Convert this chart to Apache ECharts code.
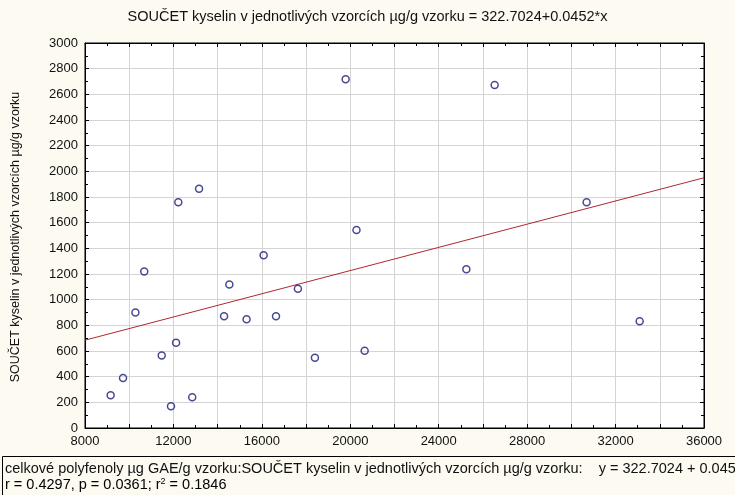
<!DOCTYPE html>
<html>
<head>
<meta charset="utf-8">
<script src="https://cdn.jsdelivr.net/npm/echarts@6/dist/echarts.min.js"></script>
<style>html,body{margin:0;padding:0;background:#fdfaf1;}#c{width:735px;height:495px;}</style>
</head>
<body>
<div id="c"></div>
<script>
const xValues = [9160, 9720, 10280, 10680, 11470, 11890, 12120, 12220, 12850, 13160, 14290, 14530, 15310, 16080, 16640, 17630, 18400, 19790, 20280, 20650, 25250, 26530, 30690, 33090];
const yValues = [255, 390, 900, 1220, 565, 170, 665, 1760, 240, 1865, 870, 1118, 847, 1346, 870, 1085, 548, 2717, 1543, 602, 1237, 2673, 1760, 832];
const intercept = 322.7024;
const slope = 0.0452;
const xMin = 8000, xMax = 36000, yMin = 0, yMax = 3000;
const titleText = 'SOUČET kyselin v jednotlivých vzorcích µg/g vzorku = 322.7024+0.0452*x';
const yName = 'SOUČET kyselin v jednotlivých vzorcích µg/g vzorku';
const footLine1 = 'celkové polyfenoly µg GAE/g vzorku:SOUČET kyselin v jednotlivých vzorcích µg/g vzorku:    y = 322.7024 + 0.0452*x';
const footLine2a = 'r = 0.4297, p = 0.0361; r';
const footLine2b = ' = 0.1846';

const points = xValues.map((x, i) => [x, yValues[i]]);
const lineData = [[xMin, intercept + slope * xMin], [xMax, intercept + slope * xMax]];

const font = 'Liberation Sans, Arial, sans-serif';
const tickCommon = {show: true, inside: true, length: 4, lineStyle: {color: '#000', width: 1}};
const minorCommon = {show: true, splitNumber: 2, length: 3, lineStyle: {color: '#000', width: 1}};
const gridLine = {show: true, lineStyle: {color: '#d4d4d4', width: 1}};

const chart = echarts.init(document.getElementById('c'));
chart.setOption({
  backgroundColor: '#fdfaf1',
  animation: false,
  title: {
    text: titleText, left: 'center', top: 4,
    textStyle: {fontFamily: font, fontSize: 14.5, fontWeight: 'normal', color: '#111'}
  },
  grid: {left: 85, top: 43, right: 31, bottom: 67, show: true, backgroundColor: '#fff', borderColor: '#000', borderWidth: 1},
  xAxis: [{
    type: 'value', min: xMin, max: xMax, interval: 2000,
    axisLine: {show: true, onZero: false, lineStyle: {color: '#000'}},
    axisTick: tickCommon, minorTick: minorCommon,
    splitLine: gridLine,
    axisLabel: {color: '#111', fontFamily: font, fontSize: 13, margin: 7, formatter: v => (v % 4000 === 0 ? String(v) : '')}
  }, {
    type: 'value', position: 'top', min: xMin, max: xMax, interval: 2000,
    axisLine: {show: true, onZero: false, lineStyle: {color: '#000'}},
    axisTick: tickCommon, minorTick: minorCommon,
    splitLine: {show: false}, axisLabel: {show: false}
  }],
  yAxis: [{
    type: 'value', min: yMin, max: yMax, interval: 200,
    axisLine: {show: true, onZero: false, lineStyle: {color: '#000'}},
    axisTick: tickCommon, minorTick: minorCommon,
    splitLine: gridLine,
    axisLabel: {color: '#111', fontFamily: font, fontSize: 13, margin: 7, formatter: v => String(v)}
  }, {
    type: 'value', position: 'right', min: yMin, max: yMax, interval: 200,
    axisLine: {show: true, onZero: false, lineStyle: {color: '#000'}},
    axisTick: tickCommon, minorTick: minorCommon,
    splitLine: {show: false}, axisLabel: {show: false}
  }],
  graphic: [
    {
      type: 'text', x: 16, y: 237, rotation: Math.PI / 2,
      style: {text: yName, fontFamily: font, fontSize: 12.5, fill: '#111', align: 'center', verticalAlign: 'middle'}
    },
    {
      type: 'rect', shape: {x: 2.5, y: 456.5, width: 740, height: 45},
      style: {fill: '#fdfaf1', stroke: '#000', lineWidth: 1}
    },
    {
      type: 'text', x: 5, y: 469,
      style: {text: footLine1, fontFamily: font, fontSize: 14.5, fill: '#111', verticalAlign: 'middle'}
    },
    {
      type: 'text', x: 5, y: 485,
      style: {
        text: '{a|' + footLine2a + '}{s|2}{a|' + footLine2b + '}',
        verticalAlign: 'middle',
        rich: {
          a: {fontFamily: font, fontSize: 14.5, color: '#111'},
          s: {fontFamily: font, fontSize: 9, color: '#111', verticalAlign: 'top', padding: [0, 0, 7, 0]}
        }
      }
    }
  ],
  series: [
    {
      type: 'line', data: lineData, symbol: 'none', silent: true,
      lineStyle: {color: '#b0282c', width: 1}, z: 2
    },
    {
      type: 'scatter', data: points, symbol: 'circle', symbolSize: 7,
      itemStyle: {color: 'transparent', borderColor: '#1c1c78', borderWidth: 1.5}, z: 3
    }
  ]
});
</script>
</body>
</html>
